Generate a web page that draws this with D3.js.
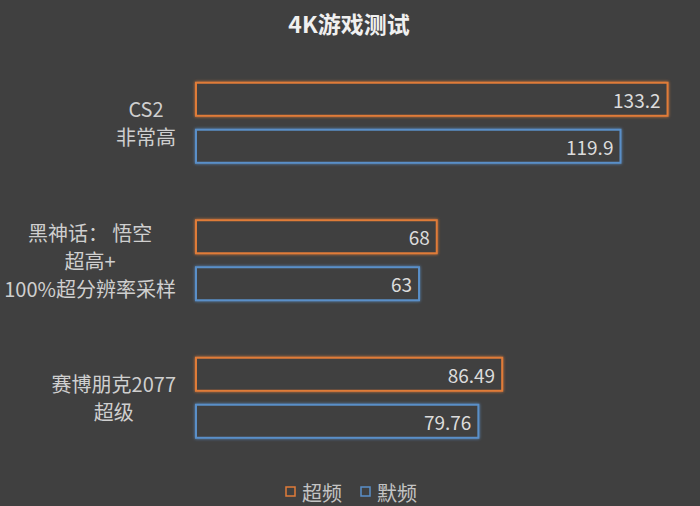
<!DOCTYPE html>
<html>
<head>
<meta charset="utf-8">
<script src="https://cdn.jsdelivr.net/npm/d3@7"></script>
<style>
html,body{margin:0;padding:0;background:#404040;}
svg{display:block;}
text{font-family:"Noto Sans CJK SC","Noto Sans",sans-serif;}
</style>
</head>
<body>
<svg id="chart" width="700" height="506"></svg>
<script>
const title = "4K游戏测试";
const categories = ["CS2\n非常高", "黑神话： 悟空\n超高+\n100%超分辨率采样", "赛博朋克2077\n超级"];
const seriesNames = ["超频", "默频"];
const overclock = [133.2, 68, 86.49];
const stock = [119.9, 63, 79.76];
const seriesColors = ["#e07b39", "#5a8fc8"];

const W = 700, H = 506;
const svg = d3.select("#chart");
svg.append("rect").attr("width", W).attr("height", H).attr("fill", "#404040");

const defs = svg.append("defs");
seriesColors.forEach((c, i) => {
  const f = defs.append("filter").attr("id", "glow" + i)
    .attr("x", "-5%").attr("y", "-30%").attr("width", "110%").attr("height", "160%");
  f.append("feGaussianBlur").attr("in", "SourceGraphic").attr("stdDeviation", 1.6).attr("result", "b");
  const m = f.append("feMerge");
  m.append("feMergeNode").attr("in", "b");
  m.append("feMergeNode").attr("in", "SourceGraphic");
});

const data = categories.map((c, i) => ({ cat: c, values: [overclock[i], stock[i]] }));

const x = d3.scaleLinear().domain([0, 140]).range([196, 691.6]);
const y = d3.scaleBand().domain(categories).range([54, 466.5]).padding(0);
const step = y.bandwidth();
const sub = d3.scaleBand().domain(seriesNames)
  .range([(step - 80) / 2, (step + 80) / 2]).paddingInner(14 / 47).paddingOuter(0);

// title
svg.append("text").attr("x", 349).attr("y", 23).attr("text-anchor", "middle")
  .attr("dominant-baseline", "central").attr("font-size", 23).attr("font-weight", "bold")
  .attr("fill", "#f0f0f0").text(title);

// bars
const g = svg.append("g");
data.forEach(d => {
  seriesNames.forEach((s, si) => {
    const v = d.values[si];
    const yy = y(d.cat) + sub(s);
    g.append("rect")
      .attr("x", x(0)).attr("y", yy)
      .attr("width", x(v) - x(0)).attr("height", sub.bandwidth())
      .attr("fill", "#404040").attr("stroke", seriesColors[si]).attr("stroke-width", 2)
      .attr("filter", "url(#glow" + si + ")");
    g.append("text")
      .attr("x", x(v) - 7).attr("y", yy + sub.bandwidth() / 2)
      .attr("text-anchor", "end").attr("dominant-baseline", "central")
      .attr("font-size", 19).attr("fill", "#dcdcdc").text(v);
  });
});

// category labels (multi-line block right-aligned, lines centered)
const lineH = 28;
const labelRight = 176;
categories.forEach(c => {
  const lines = c.split("\n");
  const grp = svg.append("g");
  const texts = lines.map((ln, i) => grp.append("text")
    .attr("font-size", 20).attr("fill", "#cfcfcf")
    .attr("text-anchor", "middle").attr("dominant-baseline", "central")
    .attr("y", y(c) + step / 2 + (i - (lines.length - 1) / 2) * lineH)
    .text(ln));
  const maxW = d3.max(texts, t => t.node().getComputedTextLength());
  const cx = labelRight - maxW / 2;
  texts.forEach(t => t.attr("x", cx));
});

// legend
const legX = [286, 361];
seriesNames.forEach((s, i) => {
  svg.append("rect").attr("x", legX[i]).attr("y", 487).attr("width", 9).attr("height", 9)
    .attr("fill", "none").attr("stroke", seriesColors[i]).attr("stroke-width", 1.5);
  svg.append("text").attr("x", legX[i] + 16).attr("y", 492)
    .attr("dominant-baseline", "central").attr("font-size", 20).attr("fill", "#c4c4c4").text(s);
});
</script>
</body>
</html>
